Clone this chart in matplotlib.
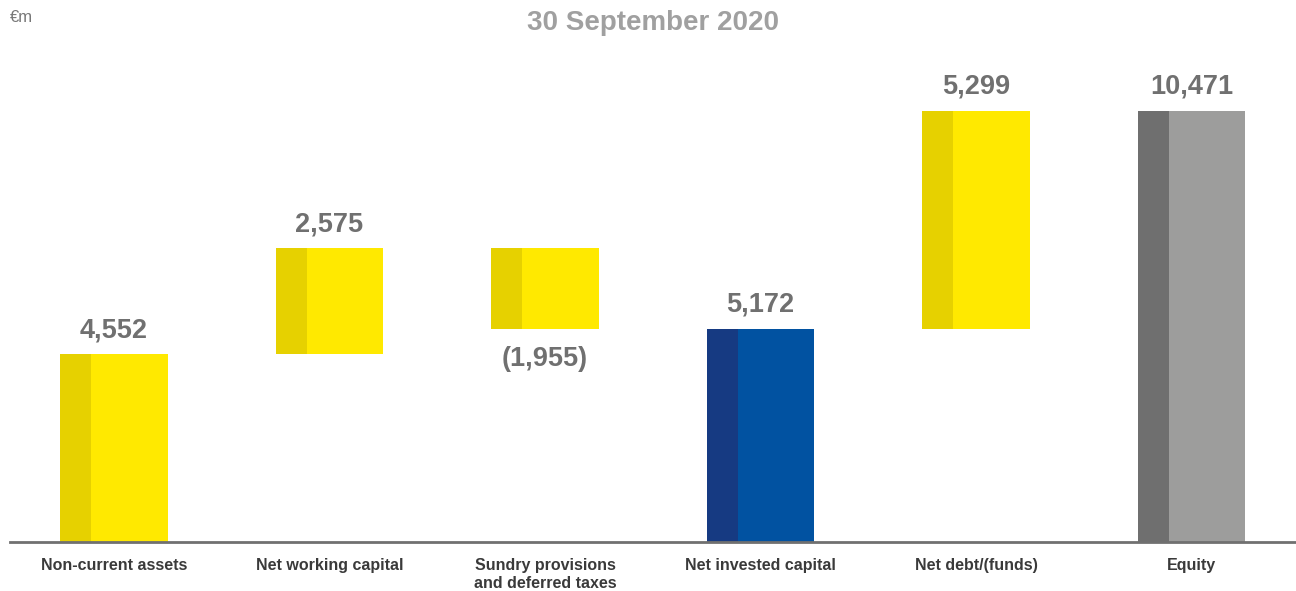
import matplotlib.pyplot as plt
from matplotlib.patches import Rectangle

categories = ['Non-current assets', 'Net working capital', 'Sundry provisions\nand deferred taxes',
              'Net invested capital', 'Net debt/(funds)', 'Equity']
values = [4552, 2575, -1955, 5172, 5299, 10471]
value_labels = ['4,552', '2,575', '(1,955)', '5,172', '5,299', '10,471']
# bar kind: step (floating) or total (from zero)
kinds = ['total', 'step', 'step', 'total', 'step', 'total']
colors = ['yellow', 'yellow', 'yellow', 'blue', 'yellow', 'grey']

palette = {
    'yellow': ('#FFE900', '#E6D100'),
    'blue': ('#0152A1', '#163A82'),
    'grey': ('#9D9D9C', '#6F6F6F'),
}

plt.rcParams['font.family'] = ['Liberation Sans', 'DejaVu Sans']

fig = plt.figure(figsize=(12.96, 5.91), dpi=100)
ax = fig.add_axes([10 / 1296, 49 / 591, 1 - 10 / 1296, 542 / 591])

px_per_unit = 0.0412
ax.set_xlim(-0.483, 5.485)
ax.set_ylim(0, 542 / px_per_unit)

width = 0.5
strip = 0.144
running = 0
for i, (v, kind, c) in enumerate(zip(values, kinds, colors)):
    if kind == 'total':
        bottom, top = 0, v
        running = v
    else:
        bottom, top = sorted([running, running + v])
        running = running + v
    light, dark = palette[c]
    left = i - width / 2
    ax.add_patch(Rectangle((left, bottom), width, top - bottom, color=light, lw=0))
    ax.add_patch(Rectangle((left, bottom), strip, top - bottom, color=dark, lw=0))
    if v < 0:
        ax.annotate(value_labels[i], (i, bottom), xytext=(0, -12), textcoords='offset points',
                    ha='center', va='top', fontsize=19.5, fontweight='bold', color='#707070')
    else:
        ax.annotate(value_labels[i], (i, top), xytext=(0, 8), textcoords='offset points',
                    ha='center', va='bottom', fontsize=19.5, fontweight='bold', color='#707070')

for s in ['top', 'right', 'left']:
    ax.spines[s].set_visible(False)
ax.spines['bottom'].set_color('#707070')
ax.spines['bottom'].set_linewidth(2)
ax.set_yticks([])
ax.set_xticks(range(len(categories)))
ax.set_xticklabels(categories, fontsize=11.5, fontweight='bold', color='#3a3a3a', linespacing=1.25)
ax.tick_params(axis='x', length=0, pad=11.5)

fig.text(653 / 1296, 1 - 23 / 591, '30 September 2020', ha='center', va='center',
         fontsize=20, fontweight='bold', color='#A0A0A0')
fig.text(10 / 1296, 1 - 18 / 591, '€m', ha='left', va='center', fontsize=12, color='#777777')

fig.savefig('out.png', dpi=100)
